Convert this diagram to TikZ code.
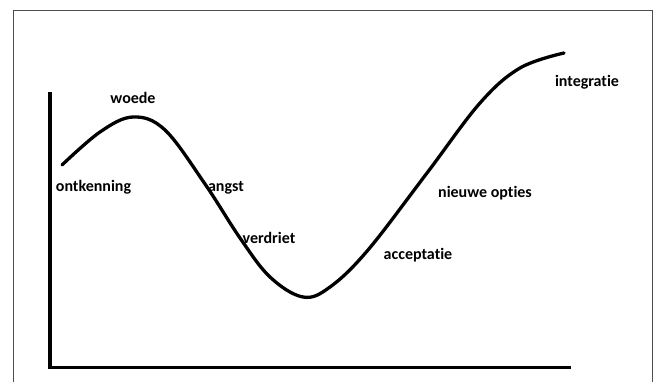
\documentclass[tikz,border=0pt]{standalone}
\usepackage{fontspec}
\setmainfont{Carlito}[Ligatures={NoCommon,NoContextual}]
\begin{document}
\begin{tikzpicture}[x=1pt,y=-1pt,
  lbl/.style={font=\fontsize{16}{18}\selectfont\bfseries, inner sep=0pt, text=black},
  axis/.style={line width=3.6pt, black},
  curve/.style={line width=3.3pt, black, line cap=round, line join=round}]
\useasboundingbox (0,0) rectangle (656,381);
\fill[white] (0,0) rectangle (656,381);
\draw[line width=1pt, black!70] (13,395) -- (13,10) -- (652.5,10) -- (652.5,395);
% axes
\coordinate (ytop) at (50,92);
\coordinate (origin) at (50,367.5);
\coordinate (xend) at (571,367.5);
\draw[axis] (ytop) -- (origin) -- (xend);
% curve
\draw[curve] plot[smooth, tension=0.6] coordinates {
 (62,165) (100,132) (133,117) (165,130) (205,184) (240,238)
 (270,277) (303,297) (330,287) (368,250) (427,173) (480,103)
 (520,68) (564,53)};
% labels
\node[lbl] (woede) at (133,98) {woede};
\node[lbl] (ontkenning) at (93.5,187) {ontkenning};
\node[lbl] (angst) at (226,188) {angst};
\node[lbl] (verdriet) at (269,238) {verdriet};
\node[lbl] (acceptatie) at (418,255) {acceptatie};
\node[lbl] (nieuwe) at (485,193) {nieuwe opties};
\node[lbl] (integratie) at (587,82) {integratie};
\end{tikzpicture}
\end{document}
